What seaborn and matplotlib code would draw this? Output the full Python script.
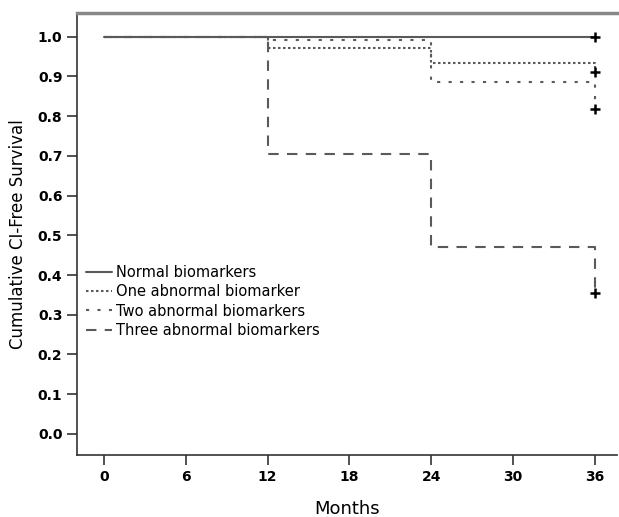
import pandas as pd
import seaborn as sns
import matplotlib.pyplot as plt
from matplotlib.ticker import FormatStrFormatter

# Kaplan-Meier step values
months = [0, 12, 24, 36]
normal = [1.0, 1.0, 1.0, 1.0]
one_abn = [1.0, 0.972, 0.935, 0.912]
two_abn = [1.0, 0.992, 0.885, 0.819]
three_abn = [1.0, 0.706, 0.470, 0.355]
groups = ["Normal biomarkers", "One abnormal biomarker",
          "Two abnormal biomarkers", "Three abnormal biomarkers"]

df = pd.concat([
    pd.DataFrame({"Months": months, "Survival": vals, "group": g})
    for g, vals in zip(groups, [normal, one_abn, two_abn, three_abn])
])
censored = df[df["Months"] == 36]

sns.set_style("white")
plt.rcParams["font.family"] = ["DejaVu Sans"]
plt.rcParams["text.color"] = "black"

fig = plt.figure(figsize=(6.19, 5.17), dpi=100)
ax = fig.add_axes([0.1244, 0.12, 0.872, 0.855])

dashes = {groups[0]: "", groups[1]: (1.2, 1.2), groups[2]: (1.5, 4), groups[3]: (5, 4)}
sns.lineplot(data=df, x="Months", y="Survival", hue="group", style="group",
             palette=["#5a5a5a"] * 4, dashes=dashes, drawstyle="steps-post",
             linewidth=1.5, ax=ax)
sns.scatterplot(data=censored, x="Months", y="Survival", marker="+", color="black",
                s=60, linewidth=1.8, legend=False, ax=ax, zorder=5)

ax.set_xlim(-1.98, 37.6)
ax.set_ylim(-0.053, 1.06)
ax.set_xticks(range(0, 37, 6))
ax.set_yticks([i / 10 for i in range(11)])
ax.yaxis.set_major_formatter(FormatStrFormatter("%.1f"))
ax.tick_params(axis="both", length=7, width=1.2, direction="out", labelsize=10,
               left=True, bottom=True, color="#333333", labelcolor="black")
for lbl in ax.get_xticklabels() + ax.get_yticklabels():
    lbl.set_fontweight("bold")

ax.set_xlabel("Months", fontsize=13, labelpad=12, color="black")
ax.set_ylabel("Cumulative CI-Free Survival", fontsize=12, labelpad=8, color="black")

for side in ["left", "bottom"]:
    ax.spines[side].set_color("#333333")
    ax.spines[side].set_linewidth(1.2)
ax.spines["top"].set_color("#888888")
ax.spines["top"].set_linewidth(2.5)
ax.spines["right"].set_visible(False)

ax.legend(frameon=False, loc="upper left", bbox_to_anchor=(0.0, 0.45),
          fontsize=10.5, handlelength=1.8, handletextpad=0.3, labelspacing=0.3,
          borderaxespad=0.2)

fig.savefig("out.png", dpi=100)
